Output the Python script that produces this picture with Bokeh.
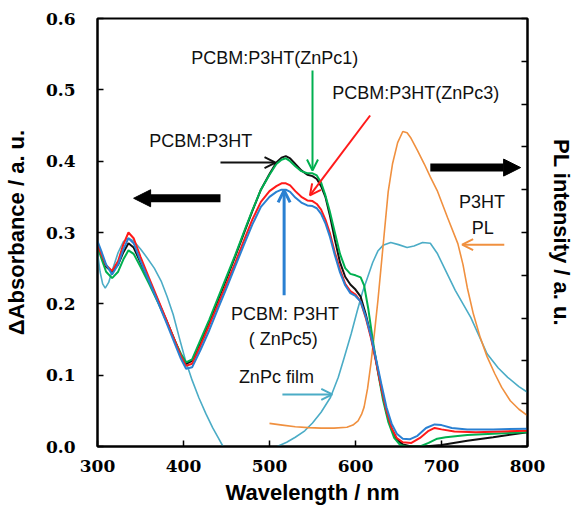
from bokeh.plotting import figure
from bokeh.models import (Range1d, LinearAxis, FixedTicker, PrintfTickFormatter,
                          Arrow, OpenHead, NormalHead, Label)
from bokeh.embed import file_html
from bokeh.resources import INLINE

nan = float("nan")

# ---------------- data ----------------
wl_main = [300, 305, 310, 317, 324, 330, 336, 342, 350, 360, 370, 380, 390, 397, 403,
           410, 420, 430, 440, 450, 460, 470, 480, 490, 500, 508, 514, 519, 524, 530,
           537, 544, 550, 555, 560, 565, 570, 576, 582, 588, 594, 600, 606, 612, 618,
           624, 630, 636, 642, 648, 655, 665, 680, 700, 730, 760, 800]

abs_p3ht = [0.283, 0.265, 0.252, 0.245, 0.255, 0.272, 0.285, 0.279, 0.258, 0.232, 0.205,
            0.177, 0.148, 0.128, 0.116, 0.120, 0.147, 0.175, 0.205, 0.235, 0.266, 0.298,
            0.330, 0.360, 0.382, 0.398, 0.405, 0.407, 0.404, 0.396, 0.387, 0.381, 0.379,
            0.375, 0.365, 0.350, 0.325, 0.290, 0.258, 0.238, 0.227, 0.220, 0.210, 0.185,
            0.155, 0.120, 0.082, 0.048, 0.024, 0.010, 0.003, 0.000, 0.000, 0.002, 0.008,
            0.013, 0.020]

wl_znpc1 = [300, 305, 310, 317, 324, 330, 336, 342, 350, 360, 370, 380, 390, 397, 403,
            410, 420, 430, 440, 450, 460, 470, 480, 490, 500, 508, 514, 519, 524, 530,
            537, 544, 550, 555, 560, 565, 570, 576, 582, 588, 594, 600, 606, 610, 615,
            620, 626, 632, 638, 645, 652, 660, 675, 685, 695, 705, 730, 760, 800]
abs_znpc1 = [0.280, 0.262, 0.245, 0.236, 0.245, 0.262, 0.275, 0.270, 0.252, 0.228, 0.203,
             0.176, 0.148, 0.130, 0.118, 0.122, 0.150, 0.178, 0.208, 0.238, 0.268, 0.300,
             0.331, 0.360, 0.381, 0.396, 0.402, 0.404, 0.400, 0.393, 0.386, 0.383, 0.383,
             0.380, 0.370, 0.352, 0.330, 0.300, 0.270, 0.250, 0.242, 0.240, 0.237, 0.226,
             0.192, 0.150, 0.105, 0.065, 0.035, 0.012, 0.002, 0.000, 0.000, 0.005, 0.011,
             0.013, 0.016, 0.018, 0.020]

wl_znpc3 = [300, 305, 310, 317, 324, 330, 336, 342, 350, 360, 370, 380, 390, 397, 403,
            410, 420, 430, 440, 450, 460, 470, 480, 490, 500, 508, 514, 519, 524, 530,
            537, 544, 550, 555, 560, 565, 570, 576, 582, 588, 594, 600, 606, 612, 618,
            624, 630, 636, 642, 648, 655, 665, 675, 685, 692, 700, 715, 740, 770, 800]
abs_znpc3 = [0.283, 0.268, 0.254, 0.246, 0.260, 0.283, 0.300, 0.292, 0.266, 0.236, 0.207,
             0.178, 0.148, 0.127, 0.113, 0.116, 0.142, 0.170, 0.199, 0.228, 0.257, 0.288,
             0.318, 0.343, 0.358, 0.365, 0.369, 0.369, 0.366, 0.358, 0.350, 0.345, 0.344,
             0.340, 0.332, 0.318, 0.300, 0.272, 0.248, 0.228, 0.218, 0.213, 0.203, 0.180,
             0.152, 0.118, 0.082, 0.050, 0.026, 0.012, 0.006, 0.005, 0.012, 0.022, 0.026,
             0.024, 0.021, 0.020, 0.021, 0.022]

wl_znpc5 = [300, 305, 310, 317, 324, 330, 336, 342, 350, 360, 370, 380, 390, 397, 403,
            410, 420, 430, 440, 450, 460, 470, 480, 490, 500, 508, 514, 519, 524, 530,
            537, 544, 550, 555, 560, 565, 570, 576, 582, 588, 594, 600, 606, 612, 618,
            624, 630, 636, 642, 648, 655, 663, 672, 682, 692, 700, 712, 730, 760, 800]
abs_znpc5 = [0.288, 0.272, 0.255, 0.241, 0.255, 0.276, 0.292, 0.285, 0.260, 0.232, 0.203,
             0.174, 0.144, 0.123, 0.109, 0.111, 0.136, 0.163, 0.193, 0.222, 0.252, 0.282,
             0.311, 0.336, 0.350, 0.357, 0.360, 0.360, 0.357, 0.349, 0.342, 0.338, 0.337,
             0.334, 0.326, 0.313, 0.295, 0.268, 0.244, 0.226, 0.215, 0.211, 0.203, 0.182,
             0.155, 0.122, 0.088, 0.055, 0.032, 0.018, 0.011, 0.010, 0.015, 0.026, 0.031,
             0.030, 0.026, 0.024, 0.024, 0.025]

wl_film = [300, 303, 306, 309, 313, 318, 324, 330, 336, 342, 350, 358, 366, 374, 381,
           388, 395, 402, 410, 418, 426, 434, 440, 446, 475, 509, 520, 530, 541, 550,
           560, 571, 580, 587, 595, 602, 608, 614, 620, 626, 632, 641, 650, 660, 668,
           678, 687, 695, 703, 716, 734, 753, 766, 777, 790, 800]
abs_film = [0.272, 0.245, 0.228, 0.222, 0.230, 0.250, 0.272, 0.287, 0.292, 0.288, 0.277,
            0.264, 0.250, 0.232, 0.210, 0.185, 0.153, 0.122, 0.093, 0.068, 0.046, 0.026,
            0.013, 0.000, nan, 0.000, 0.006, 0.013, 0.022, 0.033, 0.048, 0.069, 0.097,
            0.125, 0.158, 0.190, 0.216, 0.237, 0.258, 0.274, 0.282, 0.286, 0.283, 0.279,
            0.281, 0.286, 0.285, 0.271, 0.251, 0.219, 0.181, 0.130, 0.110, 0.097, 0.084,
            0.076]

wl_pl = [500, 515, 530, 545, 560, 575, 590, 597, 603, 607, 610, 614, 618, 622, 626, 630,
         634, 638, 643, 649, 655, 660, 664, 672, 680, 687, 695, 707, 719, 725, 730, 737,
         745, 753, 762, 770, 780, 790, 800]
pl_p3ht = [0.54, 0.50, 0.46, 0.44, 0.43, 0.43, 0.45, 0.50, 0.60, 0.75, 0.92, 1.35, 1.95,
           2.65, 3.40, 4.25, 5.10, 5.95, 6.60, 7.10, 7.36, 7.33, 7.22, 6.92, 6.60, 6.30,
           5.98, 5.35, 4.74, 4.25, 3.71, 3.10, 2.55, 2.10, 1.70, 1.38, 1.07, 0.87, 0.72]

x_ticks = [300, 400, 500, 600, 700, 800]
y_ticks = [0.0, 0.1, 0.2, 0.3, 0.4, 0.5, 0.6]
pl_ticks = [0, 1, 2, 3, 4, 5, 6, 7, 8, 9, 10]

# annotation texts: (text, x [nm], y [abs])
label_texts = ["PCBM:P3HT(ZnPc1)", "PCBM:P3HT(ZnPc3)", "PCBM:P3HT", "PCBM: P3HT",
               "( ZnPc5)", "ZnPc film", "P3HT", "PL"]
label_x = [506, 670, 420, 518, 516, 508, 747, 748]
label_y = [0.544, 0.495, 0.428, 0.186, 0.151, 0.097, 0.343, 0.307]

# ---------------- figure ----------------
p = figure(frame_width=430, frame_height=428,
           x_range=Range1d(300, 800), y_range=Range1d(0, 0.6),
           output_backend="svg", toolbar_location=None,
           min_border_left=92, min_border_right=44, min_border_top=18, min_border_bottom=61)
p.extra_y_ranges = {"pl": Range1d(0, 10)}
p.xgrid.visible = False
p.ygrid.visible = False
p.outline_line_color = "black"
p.outline_line_width = 2
p.background_fill_color = "white"
p.border_fill_color = "white"

tick_font = "DejaVu Serif"
title_font = "Liberation Sans"

xa = p.xaxis[0]
xa.ticker = FixedTicker(ticks=x_ticks)
xa.axis_label = "Wavelength / nm"
ya = p.yaxis[0]
ya.ticker = FixedTicker(ticks=y_ticks)
ya.formatter = PrintfTickFormatter(format="%.1f")
ya.axis_label = "ΔAbsorbance / a. u."

ra = LinearAxis(y_range_name="pl", ticker=FixedTicker(ticks=pl_ticks),
                axis_label="PL intensity / a. u.")
p.add_layout(ra, "right")

for ax in (xa, ya, ra):
    ax.axis_line_width = 2
    ax.axis_line_color = "black"
    ax.major_tick_in = 6
    ax.major_tick_out = 0
    ax.major_tick_line_width = 1.5
    ax.minor_tick_line_color = None
    ax.major_label_text_font = tick_font
    ax.major_label_text_font_style = "bold"
    ax.major_label_text_font_size = "17px"
    ax.major_label_text_color = "black"
    ax.axis_label_text_font = title_font
    ax.axis_label_text_font_style = "bold"
    ax.axis_label_text_font_size = "22px"
    ax.axis_label_text_color = "black"

xa.major_label_standoff = 13
xa.axis_label_standoff = 5
ya.major_label_standoff = 22
ya.axis_label_standoff = 14
ra.major_label_overrides = {t: "" for t in pl_ticks}
ra.major_label_standoff = 0
ra.axis_label_standoff = 21
ra.axis_label_orientation = "vertical"

# ---------------- curves ----------------
p.line(wl_film, abs_film, line_color="#4BACC6", line_width=1.6)
p.line(wl_pl, pl_p3ht, y_range_name="pl", line_color="#F0903F", line_width=1.6)
p.line(wl_main, abs_p3ht, line_color="#111111", line_width=2)
p.line(wl_znpc1, abs_znpc1, line_color="#00B050", line_width=2)
p.line(wl_znpc3, abs_znpc3, line_color="#FF1A1A", line_width=2)
p.line(wl_znpc5, abs_znpc5, line_color="#2A80D2", line_width=2)

# ---------------- arrows ----------------
def thin_arrow(x0, y0, x1, y1, color, width=2, size=11):
    p.add_layout(Arrow(x_start=x0, y_start=y0, x_end=x1, y_end=y1,
                       line_color=color, line_width=width,
                       end=OpenHead(size=size, line_color=color, line_width=width)))

def thick_arrow(x0, y0, x1, y1):
    p.add_layout(Arrow(x_start=x0, y_start=y0, x_end=x1, y_end=y1,
                       line_color="black", line_width=8,
                       end=NormalHead(size=17, fill_color="black", line_color="black")))

thick_arrow(443, 0.348, 342, 0.348)
thick_arrow(687, 0.391, 792, 0.391)
thin_arrow(443, 0.398, 507, 0.398, "#111111")
thin_arrow(550, 0.527, 550, 0.387, "#00B050")
thin_arrow(617, 0.464, 547, 0.352, "#FF1A1A")
thin_arrow(517, 0.212, 517, 0.359, "#2A80D2", width=3, size=12)
thin_arrow(515, 0.073, 573, 0.073, "#4BACC6")
thin_arrow(773, 0.283, 724, 0.283, "#F0903F")

# ---------------- labels ----------------
for t, lx, ly in zip(label_texts, label_x, label_y):
    p.add_layout(Label(x=lx, y=ly, text=t, text_align="center", text_baseline="middle",
                       text_font="Liberation Sans", text_font_size="18px",
                       text_color="#111111"))

open("out.html", "w").write(file_html(p, INLINE))
